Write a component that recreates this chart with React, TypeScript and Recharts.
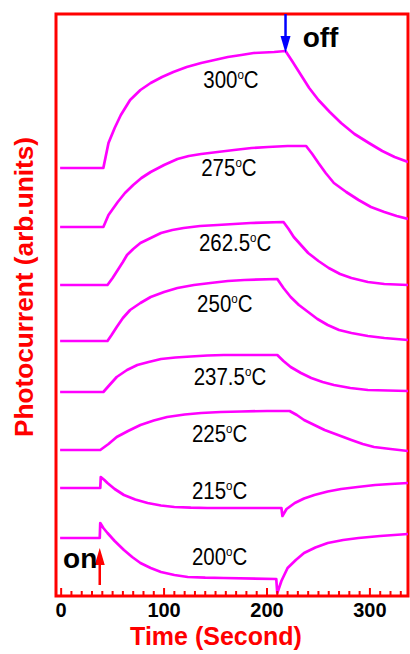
import { LineChart, Line, XAxis, YAxis, ReferenceArea, ReferenceDot, ReferenceLine } from "recharts";

// Photocurrent transients, one trace per anneal temperature (time in s, signal in arb. units, offset per trace)
const time300 = [-1, 41, 46, 52, 58, 67, 77, 87, 98, 109, 122, 136, 149, 162, 175, 187, 207, 218, 225, 233, 241, 250, 261, 272, 285, 299, 312, 324, 337];
const photo300 = [428, 428, 453, 468, 481, 496, 506, 513, 519, 524, 529, 533, 536, 539, 541, 543, 544, 545, 534, 521, 508, 496, 484, 473, 462, 453, 445, 439, 434];

const time275 = [-1, 41, 46, 55, 62, 70, 78, 87, 100, 113, 124, 136, 152, 168, 185, 201, 220, 238, 244, 250, 257, 265, 277, 289, 301, 314, 326, 337];
const photo275 = [369, 369, 381, 394, 403, 411, 418, 424, 431, 437, 440, 442, 444, 446, 448, 449, 450, 450, 442, 433, 423, 413, 404, 396, 389, 384, 380, 377];

const time262 = [-1, 45, 50, 55, 60, 64, 70, 77, 87, 97, 108, 119, 135, 152, 168, 184, 216, 221, 226, 233, 240, 250, 260, 271, 282, 298, 314, 337];
const photo262 = [311, 311, 318, 326, 334, 341, 347, 353, 358, 363, 366, 368, 370, 371, 372, 373, 374, 367, 359, 351, 343, 335, 328, 322, 318, 314, 312, 311];

const time250 = [-1, 45, 49, 54, 60, 67, 77, 87, 100, 113, 129, 145, 162, 178, 210, 216, 223, 231, 240, 249, 259, 270, 282, 298, 314, 337];
const photo250 = [255, 255, 261, 269, 278, 286, 293, 299, 304, 308, 311, 313, 315, 316, 317, 308, 299, 291, 284, 277, 271, 266, 263, 260, 258, 256];

const time237 = [-1, 41, 47, 54, 64, 74, 85, 97, 111, 126, 142, 158, 210, 216, 223, 233, 243, 254, 265, 281, 298, 337];
const photo237 = [204, 204, 211, 219, 226, 231, 234, 237, 238.5, 239.5, 240.5, 241, 241, 235, 229, 223, 218, 214, 211, 208, 206, 205];

const time225 = [-1, 38, 46, 54, 65, 77, 90, 103, 120, 136, 155, 175, 200, 222, 229, 236, 246, 256, 269, 282, 293, 304, 320, 337];
const photo225 = [146, 146, 152, 159, 165, 171, 175.5, 179, 181.5, 183, 184, 184.5, 185, 185, 181, 176, 171, 166, 161, 156, 152, 149, 147, 145];

const time215 = [-1, 38, 38.5, 42, 45, 52, 61, 72, 84, 97, 110, 126, 142, 214, 215, 219, 227, 236, 246, 259, 272, 288, 305, 320, 337];
const photo215 = [108, 108, 119, 116, 113, 107, 101, 96.5, 93, 90.5, 89, 88.3, 88, 88, 80, 87, 93, 97.5, 101, 104.5, 107, 109, 111, 112, 113];

const time200 = [-1, 37.5, 38, 41, 45, 52, 61, 69, 77, 87, 97, 110, 123, 140, 158, 209, 210, 214, 220, 228, 236, 247, 259, 274, 289, 310, 337];
const photo200 = [58, 58, 73, 68, 63, 55, 46, 39, 33, 28, 24, 21, 19, 18.3, 18, 17, 3, 15, 28, 36, 43, 48.5, 53, 56, 58, 60, 62];

const tempLabels = ["300", "275", "262.5", "250", "237.5", "225", "215", "200"];
const labelTime = [165, 163, 169, 159, 164, 154, 154, 154];
const labelSignal = [516, 428, 353, 292, 219, 162, 105, 39];

const timeTicks = [0, 10, 20, 30, 40, 50, 60, 70, 80, 90, 100, 110, 120, 130, 140, 150, 160, 170, 180, 190, 200, 210, 220, 230, 240, 250, 260, 270, 280, 290, 300, 310, 320, 330];

const RED = "#ff0000";
const MAGENTA = "#ff00ff";
const FONT = "'Liberation Sans', Arial, sans-serif";

const toPoints = (time: number[], photo: number[]) => time.map((t, i) => ({ t, v: photo[i] }));

const traces = [
  toPoints(time300, photo300),
  toPoints(time275, photo275),
  toPoints(time262, photo262),
  toPoints(time250, photo250),
  toPoints(time237, photo237),
  toPoints(time225, photo225),
  toPoints(time215, photo215),
  toPoints(time200, photo200),
];

function TimeTick({ x, y, payload }: any) {
  const major = payload.value % 100 === 0;
  return (
    <g>
      <line x1={x} x2={x} y1={y} y2={y - (major ? 8 : 5)} stroke={RED} strokeWidth={2} />
      {major && (
        <text x={x} y={y + 21} textAnchor="middle" fontSize={20} fontWeight="bold" fontFamily={FONT} fill="#000">
          {payload.value}
        </text>
      )}
    </g>
  );
}

function tempShape(label: string) {
  return ({ cx, cy }: any) => (
    <text
      transform={`translate(${cx},${cy + 8}) scale(0.89,1)`}
      textAnchor="middle"
      fontSize={23}
      fontFamily={FONT}
      fill="#000"
    >
      {label}
      <tspan fontSize={13} dy={-9}>o</tspan>
      <tspan dy={9}>C</tspan>
    </text>
  );
}

function wordShape(word: string) {
  return ({ cx, cy }: any) => (
    <text x={cx} y={cy} textAnchor="middle" fontSize={28} fontWeight="bold" fontFamily={FONT} fill="#000">
      {word}
    </text>
  );
}

function arrowShape(color: string) {
  return ({ x1, y1, x2, y2 }: any) => {
    const dir = y2 > y1 ? 1 : -1;
    const base = y2 - dir * 17;
    return (
      <g>
        <line x1={x1} y1={y1} x2={x2} y2={base} stroke={color} strokeWidth={2.5} />
        <polygon points={`${x2 - 5},${base} ${x2 + 5},${base} ${x2},${y2}`} fill={color} />
      </g>
    );
  };
}

export default function App() {
  return (
    <div style={{ position: "absolute", left: 0, top: 0 }}>
      <LineChart width={410} height={654} margin={{ top: 14, right: 2, bottom: 0, left: 56 }}>
        <XAxis
          type="number"
          dataKey="t"
          domain={[-5, 337]}
          allowDataOverflow
          ticks={timeTicks}
          interval={0}
          axisLine={false}
          tickLine={false}
          tickSize={0}
          tickMargin={0}
          height={58}
          tick={(props: any) => <TimeTick {...props} />}
        />
        <YAxis type="number" domain={[0, 582]} allowDataOverflow hide />
        <ReferenceArea
          x1={-5}
          x2={337}
          y1={0}
          y2={582}
          stroke={RED}
          strokeWidth={3}
          fill="none"
          ifOverflow="visible"
        />
        {traces.map((data, i) => (
          <Line
            key={tempLabels[i]}
            data={data}
            dataKey="v"
            type="linear"
            stroke={MAGENTA}
            strokeWidth={2.7}
            strokeLinejoin="round"
            dot={false}
            isAnimationActive={false}
          />
        ))}
        {tempLabels.map((label, i) => (
          <ReferenceDot
            key={`lbl-${label}`}
            x={labelTime[i]}
            y={labelSignal[i]}
            r={0}
            ifOverflow="visible"
            shape={tempShape(label)}
          />
        ))}
        <ReferenceLine
          segment={[{ x: 218, y: 582 }, { x: 218, y: 543 }]}
          ifOverflow="visible"
          shape={arrowShape("#0000ff")}
        />
        <ReferenceLine
          segment={[{ x: 37.5, y: 11 }, { x: 37.5, y: 48 }]}
          ifOverflow="visible"
          shape={arrowShape(RED)}
        />
        <ReferenceDot x={252} y={549} r={0} ifOverflow="visible" shape={wordShape("off")} />
        <ReferenceDot x={18.5} y={28} r={0} ifOverflow="visible" shape={wordShape("on")} />
        <text
          x={216}
          y={645}
          textAnchor="middle"
          fontSize={25}
          fontWeight="bold"
          fontFamily={FONT}
          fill={RED}
        >
          Time (Second)
        </text>
        <text
          transform="translate(33,287) rotate(-90)"
          textAnchor="middle"
          fontSize={26}
          fontWeight="bold"
          fontFamily={FONT}
          fill={RED}
          textLength={300}
          lengthAdjust="spacingAndGlyphs"
        >
          Photocurrent (arb.units)
        </text>
      </LineChart>
    </div>
  );
}
